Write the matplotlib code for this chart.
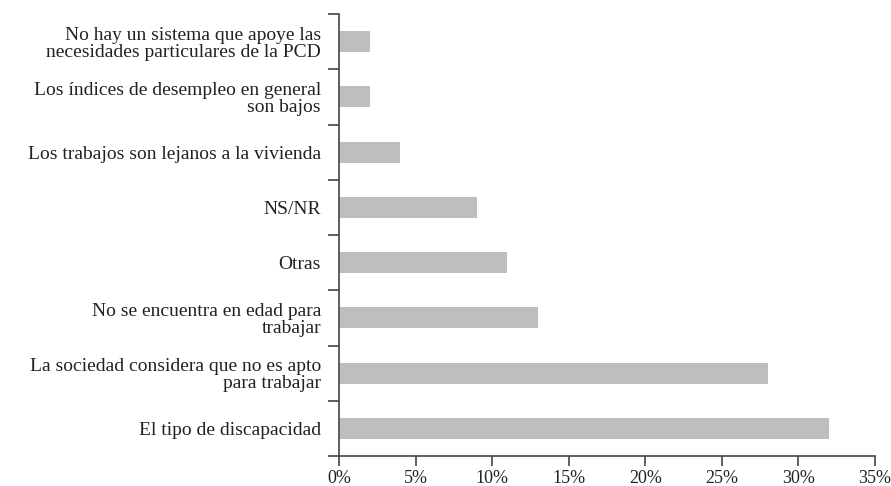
import matplotlib.pyplot as plt
import numpy as np

categories = [
    'El tipo de discapacidad',
    'La sociedad considera que no es apto\npara trabajar',
    'No se encuentra en edad para\ntrabajar',
    'Otras',
    'NS/NR',
    'Los trabajos son lejanos a la vivienda',
    'Los índices de desempleo en general\nson bajos',
    'No hay un sistema que apoye las\nnecesidades particulares de la PCD',
]
values = [32, 28, 13, 11, 9, 4, 2, 2]
xticks = [0, 5, 10, 15, 20, 25, 30, 35]

plt.rcParams['font.family'] = ['Liberation Serif', 'DejaVu Serif']

fig = plt.figure(figsize=(8.91, 4.86), dpi=100)
ax = fig.add_axes([339 / 891, 1 - 456 / 486, 536 / 891, 442 / 486])

y = np.arange(len(categories))
ax.barh(y, values, height=0.38, color='#bdbec0')

ax.set_xlim(0, 35)
ax.set_ylim(-0.5, len(categories) - 0.5)
ax.set_xticks(xticks)
ax.set_xticklabels([f'{t}%' for t in xticks], fontsize=13, color='#222222')
ax.set_yticks(y)
ax.set_yticklabels(categories, fontsize=14, color='#222222', linespacing=1.0)
ax.set_yticks(np.arange(-0.5, len(categories)), minor=True)

ax.tick_params(axis='y', which='major', length=0, pad=13)
ax.tick_params(axis='y', which='minor', length=8, width=1.2, color='#444444', direction='out')
ax.tick_params(axis='x', length=7, width=1.2, color='#444444', direction='out', pad=3)

for side in ['top', 'right']:
    ax.spines[side].set_visible(False)
for side in ['left', 'bottom']:
    ax.spines[side].set_color('#444444')
    ax.spines[side].set_linewidth(1.2)

fig.savefig('out.png', dpi=100)
